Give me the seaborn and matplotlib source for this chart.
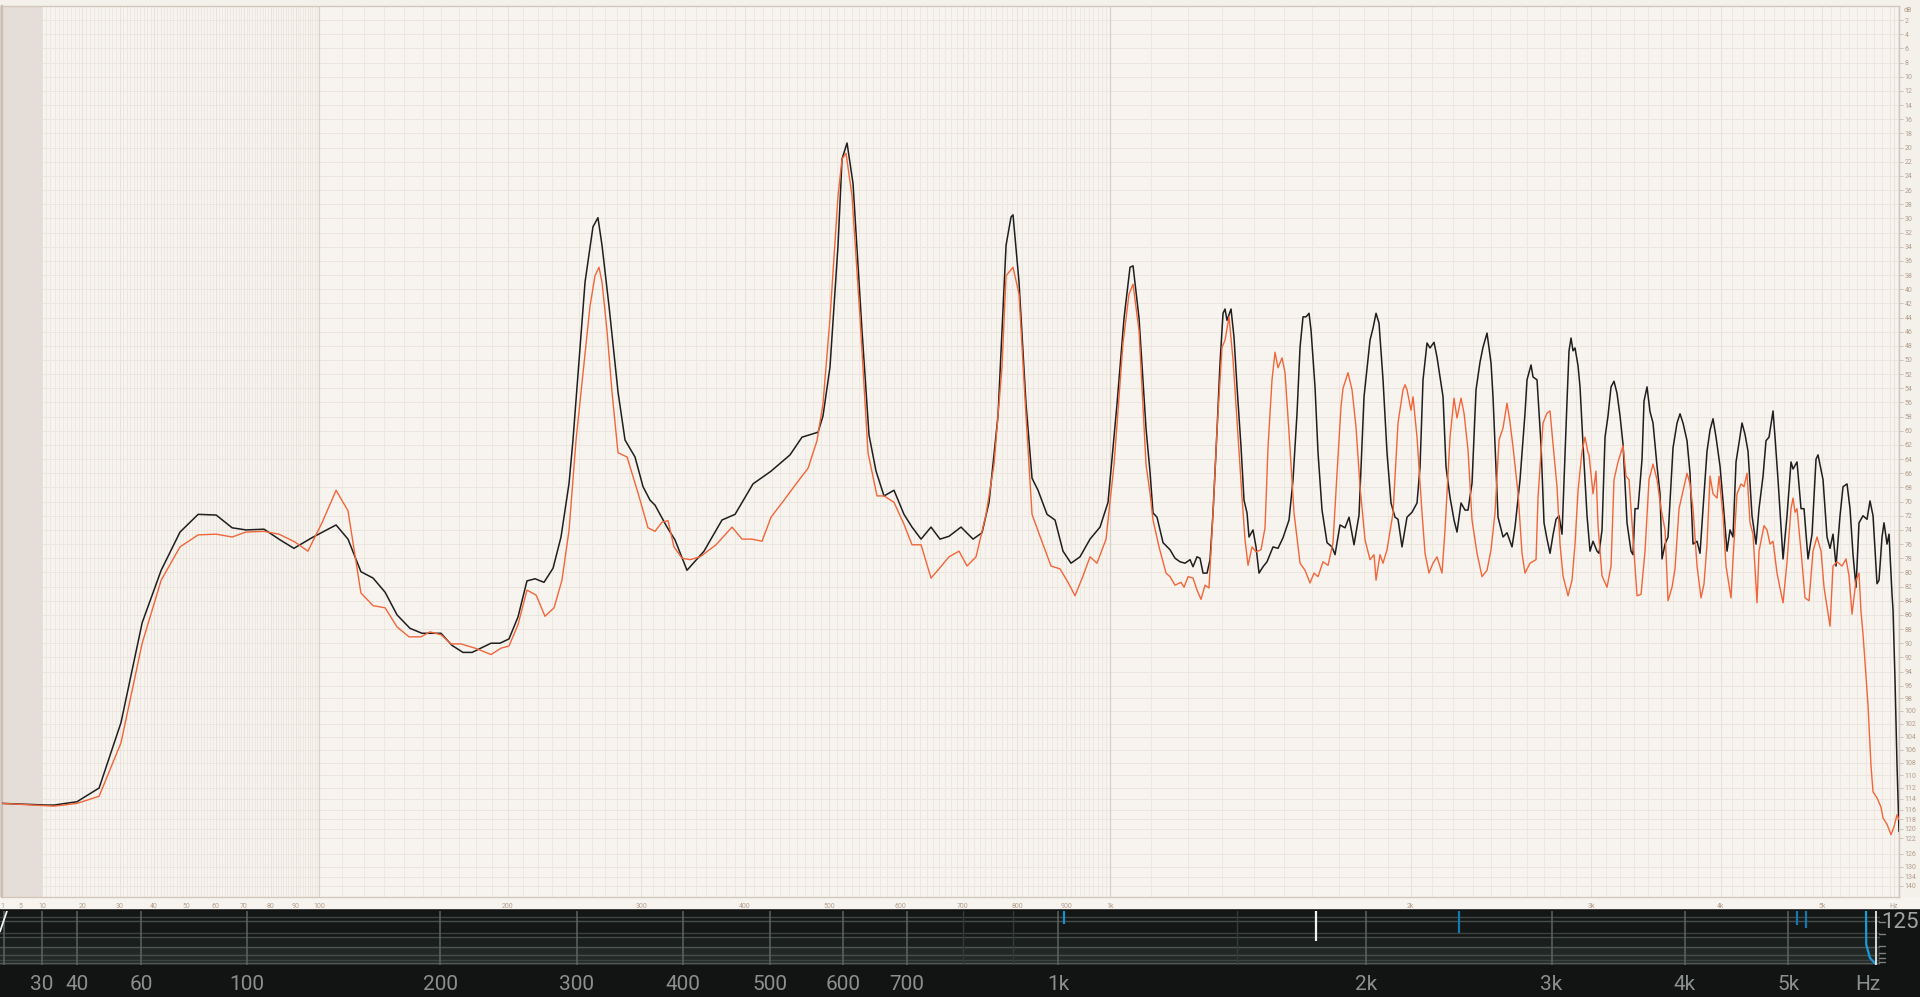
import numpy as np
import pandas as pd
import seaborn as sns
import matplotlib.pyplot as plt
from matplotlib.lines import Line2D
from matplotlib.patches import Rectangle
from matplotlib.ticker import FixedLocator

sns.set_theme(style='white')
plt.rcParams['font.family'] = ['Liberation Sans Narrow', 'Roboto', 'DejaVu Sans']

# ---- spectrum readings (Hz, dB below 0) ----
black_freq = [1.0, 11.0, 12.9, 18.6, 24.4, 30.4, 36.5, 42.2, 48.1, 54.0, 60.1, 65.7, 70.7, 77.5, 83.7, 89.3,
              96.8, 107.3, 112.7, 118.7, 124.5, 130.4, 136.4, 143.1, 149.5, 159.9, 166.1, 172.5, 177.9, 189.5,
              195.1, 200.9, 206.8, 212.8, 218.3, 224.5, 230.9, 236.6, 242.5, 245.4, 254.5, 260.6, 264.5, 267.7,
              273.3, 280.6, 286.4, 294.8, 301.7, 307.8, 312.2, 323.0, 330.3, 341.6, 358.1, 376.2, 389.8, 409.1,
              429.3, 451.4, 465.8, 485.7, 492.0, 501.0, 511.5, 516.8, 523.5, 531.6, 543.9, 553.7, 563.7, 575.2,
              589.9, 604.9, 617.2, 631.3, 647.2, 661.8, 676.7, 697.1, 718.0, 734.0, 746.7, 763.2, 778.3, 787.8,
              791.6, 803.2, 816.9, 828.9, 841.0, 859.4, 876.1, 893.0, 910.3, 930.1, 952.5, 975.5, 994.2, 1015.6,
              1032.6, 1047.3, 1054.8, 1069.8, 1087.6, 1097.8, 1105.6, 1116.0, 1131.9, 1150.6, 1164.1, 1177.8,
              1191.7, 1205.7, 1214.1, 1225.5, 1234.1, 1242.8, 1254.4, 1263.2, 1272.0, 1283.9, 1292.9, 1301.9,
              1308.0, 1314.0, 1326.3, 1335.5, 1344.8, 1357.4, 1366.8, 1376.3, 1382.7, 1395.5, 1405.2, 1415.0,
              1428.1, 1441.3, 1461.4, 1478.3, 1495.4, 1516.2, 1530.2, 1544.3, 1555.0, 1565.7, 1576.5, 1587.4,
              1594.7, 1609.3, 1620.4, 1635.3, 1654.1, 1673.1, 1684.6, 1703.9, 1723.5, 1739.3, 1759.2, 1779.3,
              1799.7, 1824.4, 1836.9, 1849.5, 1862.1, 1879.1, 1896.2, 1913.5, 1930.9, 1944.1, 1961.8, 1984.1,
              2006.7, 2029.5, 2043.4, 2057.3, 2075.9, 2090.0, 2109.0, 2123.3, 2152.3, 2166.9, 2186.5, 2206.3,
              2221.2, 2241.4, 2261.6, 2276.9, 2297.5, 2318.3, 2339.2, 2355.0, 2376.3, 2397.7, 2408.5, 2435.7,
              2463.2, 2485.3, 2513.4, 2530.3, 2558.8, 2587.6, 2599.2, 2622.6, 2634.4, 2658.0, 2681.9, 2699.9,
              2718.1, 2736.4, 2754.8, 2773.3, 2791.9, 2810.7, 2823.3, 2842.2, 2854.9, 2867.7, 2880.5, 2893.4,
              2912.8, 2925.8, 2945.4, 2971.8, 2991.7, 3011.8, 3038.7, 3052.3, 3072.7, 3093.3, 3114.0, 3134.9,
              3155.8, 3176.9, 3198.2, 3219.6, 3248.3, 3277.3, 3291.9, 3306.6, 3328.7, 3358.4, 3373.3, 3395.8,
              3418.5, 3441.3, 3472.0, 3495.1, 3510.7, 3534.1, 3557.7, 3597.3, 3629.3, 3653.5, 3677.8, 3710.5,
              3735.2, 3760.1, 3793.5, 3818.8, 3844.2, 3878.3, 3904.2, 3930.2, 3956.3, 3991.4, 4017.9, 4053.6,
              4080.5, 4107.6, 4134.9, 4162.4, 4190.0, 4217.8, 4245.9, 4283.5, 4321.4, 4350.1, 4388.7, 4417.8,
              4447.0, 4486.4, 4506.2, 4536.1, 4586.4, 4626.9, 4667.8, 4688.4, 4729.9, 4771.7, 4803.3, 4845.7,
              4888.6, 4931.8, 4953.5, 5008.2, 5052.4, 5085.9, 5119.5, 5153.3, 5198.8, 5233.2, 5279.4, 5314.3,
              5349.4, 5384.7, 5420.3, 5468.1, 5516.3, 5552.7, 5589.4, 5638.6, 5663.4, 5700.8, 5725.9, 5763.6,
              5789.0, 5827.2, 5840.0, 5865.6, 5891.4, 5917.0]
black_db = [114.8, 115.1, 115.1, 114.5, 112.0, 101.8, 87.1, 79.7, 74.3, 71.8, 71.9, 73.7, 74.0, 73.9, 75.4, 76.6,
            75.1, 73.3, 75.3, 79.9, 80.8, 82.8, 86.0, 87.9, 88.6, 88.6, 90.3, 91.3, 91.3, 90.0,
            90.0, 89.4, 86.3, 81.2, 80.9, 81.4, 79.4, 75.0, 67.4, 61.3, 39.0, 31.2, 29.9, 33.8,
            42.4, 54.5, 61.3, 63.7, 67.9, 69.8, 70.5, 73.6, 75.4, 79.7, 77.0, 72.6, 71.8, 67.5,
            65.7, 63.4, 60.9, 60.2, 57.9, 51.0, 33.8, 21.6, 19.35, 25.1, 45.8, 60.6, 65.7, 69.2,
            68.4, 71.8, 73.6, 75.3, 73.6, 75.3, 74.9, 73.6, 75.3, 74.4, 70.1, 57.9, 33.8, 29.8,
            29.5, 39.0, 56.2, 66.7, 68.4, 71.8, 72.6, 77.0, 78.7, 77.8, 75.3, 73.6, 70.1, 56.2,
            44.1, 36.9, 36.7, 44.1, 59.7, 65.8, 71.6, 72.2, 75.8, 76.8, 78.0, 78.5,
            78.7, 78.2, 79.2, 77.8, 78.0, 80.1, 80.1, 78.2, 71.6, 59.9, 50.4, 43.4,
            42.8, 44.4, 42.8, 46.8, 53.8, 62.3, 69.8, 71.6, 75.0, 74.0, 76.4, 80.1,
            79.2, 78.5, 76.4, 76.6, 75.1, 72.6, 66.9, 57.5, 48.2, 43.9, 43.9, 43.4,
            45.8, 53.8, 63.1, 71.2, 75.8, 76.4, 77.5, 73.3, 73.7, 72.2, 76.1, 71.9,
            55.2, 47.2, 45.5, 43.4, 44.8, 52.8, 63.1, 70.2, 72.2, 72.5, 76.4, 72.2,
            71.5, 70.2, 65.1, 52.8, 47.6, 48.3, 47.5, 49.6, 55.2, 65.1, 69.4, 72.6,
            74.3, 70.2, 71.2, 71.2, 67.4, 54.2, 50.3, 48.2, 46.2, 50.4, 55.2, 72.2,
            75.0, 74.4, 76.4, 73.6, 66.9, 57.5, 52.8, 50.7, 52.4, 52.8, 62.0, 73.0,
            75.3, 77.3, 74.7, 72.5, 72.0, 74.6, 66.9, 55.8, 48.7, 46.9, 48.7, 48.3,
            50.8, 53.8, 61.9, 72.0, 77.0, 75.6, 77.0, 77.3, 74.0, 60.9, 57.9, 53.8,
            53.0, 54.7, 57.9, 61.9, 73.0, 77.0, 77.5, 71.0, 71.0, 64.0, 55.8, 53.8,
            57.3, 58.9, 65.0, 68.9, 78.1, 76.0, 75.0, 62.4, 58.9, 57.6, 58.9, 61.4,
            66.0, 76.0, 75.6, 77.3, 71.0, 62.9, 59.9, 58.3, 60.9, 65.0, 69.9, 77.0,
            74.0, 75.0, 64.4, 61.7, 58.9, 60.5, 62.9, 72.0, 76.0, 71.0, 66.4, 61.4,
            60.9, 57.2, 60.9, 66.9, 78.1, 72.0, 64.4, 65.4, 64.4, 71.0, 71.0, 78.1,
            74.6, 64.0, 63.4, 66.9, 75.0, 76.6, 74.6, 79.1, 72.0, 67.9, 67.5, 71.0,
            77.5, 82.1, 73.0, 72.0, 72.5, 69.9, 72.0, 81.6, 81.1, 75.0, 73.0, 76.0,
            74.6, 83.1, 85.3, 95.2, 108.4, 120.5]

orange_freq = [1.0, 12.9, 18.6, 24.4, 30.4, 36.5, 42.2, 48.1, 54.0, 60.1, 65.7, 70.7, 77.5, 83.3, 89.7, 95.1,
               101.1, 107.3, 112.7, 118.7, 124.5, 130.4, 136.4, 142.6, 148.9, 153.8, 159.9, 165.6, 171.3, 179.7,
               189.5, 195.8, 200.9, 206.8, 212.8, 219.0, 225.2, 231.6, 237.3, 242.5, 247.7, 258.3, 262.2, 265.3,
               267.7, 271.7, 275.7, 280.6, 288.1, 297.4, 306.0, 312.2, 318.5, 323.9, 329.4, 336.9, 344.5, 354.2,
               370.1, 386.6, 397.2, 408.0, 419.1, 429.3, 444.3, 458.6, 473.2, 484.4, 492.0, 501.0, 511.5, 516.8,
               522.1, 530.2, 541.2, 552.3, 565.1, 575.2, 589.9, 604.9, 617.2, 631.3, 647.2, 660.2, 676.7, 693.7,
               707.5, 723.3, 741.2, 755.8, 770.7, 778.3, 791.6, 803.2, 816.9, 828.9, 847.1, 867.7, 886.6, 903.8,
               919.1, 936.8, 952.5, 968.5, 989.5, 1008.4, 1030.1, 1044.8, 1054.8, 1069.8, 1087.6, 1097.8, 1105.6,
               1121.3, 1139.9, 1150.6, 1164.1, 1180.6, 1188.9, 1200.1, 1214.1, 1225.5, 1237.0, 1248.6, 1260.2,
               1272.0, 1283.9, 1298.9, 1308.0, 1320.1, 1332.5, 1344.8, 1360.5, 1370.0, 1379.5, 1392.3, 1405.2,
               1421.5, 1434.7, 1444.7, 1458.0, 1468.1, 1478.3, 1492.0, 1502.3, 1516.2, 1533.7, 1555.0, 1572.9,
               1591.0, 1605.6, 1620.4, 1639.0, 1657.9, 1676.9, 1692.3, 1707.8, 1715.6, 1735.3, 1751.2, 1767.2,
               1783.4, 1803.8, 1824.4, 1841.1, 1849.5, 1866.3, 1879.1, 1896.2, 1922.2, 1944.1, 1966.3, 1975.2,
               1984.1, 2002.2, 2011.3, 2029.5, 2052.6, 2066.6, 2085.3, 2104.3, 2123.3, 2147.4, 2162.0, 2186.5,
               2206.3, 2221.2, 2241.4, 2256.5, 2276.9, 2297.5, 2323.5, 2349.8, 2376.3, 2397.7, 2419.3, 2441.1,
               2463.2, 2485.3, 2502.1, 2519.0, 2547.4, 2570.3, 2587.6, 2616.7, 2652.1, 2664.0, 2693.9, 2718.1,
               2736.4, 2754.8, 2779.5, 2798.2, 2817.0, 2848.6, 2874.1, 2893.4, 2912.8, 2938.9, 2958.6, 2978.4,
               2985.1, 3011.8, 3031.9, 3045.5, 3072.7, 3107.1, 3134.9, 3155.8, 3184.0, 3219.6, 3241.1, 3262.8,
               3291.9, 3321.3, 3350.9, 3380.8, 3410.9, 3441.3, 3472.0, 3502.9, 3534.1, 3557.7, 3589.3, 3613.2,
               3645.4, 3677.8, 3710.5, 3735.2, 3760.1, 3793.5, 3827.3, 3852.7, 3878.3, 3904.2, 3930.2, 3965.0,
               3982.6, 4017.9, 4044.6, 4089.5, 4107.6, 4144.0, 4180.8, 4208.6, 4236.5, 4264.6, 4293.0, 4331.0,
               4350.1, 4398.3, 4427.5, 4456.9, 4486.4, 4526.1, 4586.4, 4626.9, 4667.8, 4688.4, 4709.1, 4729.9,
               4771.7, 4813.9, 4856.4, 4899.3, 4942.6, 4986.3, 5019.3, 5085.9, 5119.5, 5164.7, 5221.7, 5267.8,
               5302.6, 5337.7, 5384.7, 5420.3, 5444.2, 5468.1, 5528.4, 5564.9, 5589.4, 5638.6, 5688.3, 5713.4,
               5763.6, 5814.4, 5852.8, 5891.4, 5917.0]
orange_db = [114.8, 115.3, 114.8, 113.5, 104.9, 90.0, 81.1, 76.4, 74.7, 74.6, 75.0, 74.3, 74.2, 74.6, 75.7, 77.0,
             73.0, 68.4, 71.3, 82.9, 84.7, 85.0, 87.7, 89.1, 89.1, 88.4, 88.8, 90.1, 90.1, 90.7,
             91.6, 90.7, 90.4, 87.4, 82.5, 83.2, 86.2, 85.0, 81.1, 74.0, 61.3, 42.4, 38.1, 36.9,
             39.0, 45.9, 54.5, 63.1, 63.7, 68.8, 73.7, 74.2, 72.9, 72.7, 76.4, 78.0, 78.2, 77.8,
             76.1, 73.6, 75.3, 75.3, 75.6, 72.2, 69.8, 67.5, 65.3, 61.4, 56.2, 44.1, 26.8, 21.6,
             20.8, 26.8, 44.1, 63.1, 69.2, 69.2, 70.1, 73.2, 76.1, 76.1, 80.8, 79.5, 77.8, 77.0,
             79.1, 77.8, 71.8, 64.8, 51.0, 38.1, 36.9, 40.7, 57.9, 71.8, 75.3, 79.1, 79.5, 81.4,
             83.3, 80.5, 77.8, 78.7, 75.3, 64.8, 47.6, 40.7, 39.3, 45.9, 64.8, 68.8, 72.6,
             76.4, 80.1, 80.6, 81.8, 81.4, 82.1, 80.6, 80.8, 82.5, 83.8, 81.8, 82.2,
             71.6, 59.9, 48.2, 47.2, 43.9, 50.0, 58.5, 69.4, 75.4, 79.0, 76.4, 77.1,
             76.8, 73.7, 62.3, 52.8, 48.9, 51.1, 49.7, 51.8, 60.3, 71.6, 78.7, 79.7,
             81.5, 80.1, 80.6, 78.5, 79.0, 75.8, 66.0, 56.6, 54.0, 51.8, 54.2, 59.5,
             67.9, 75.4, 78.2, 77.5, 81.1, 77.5, 78.7, 76.8, 71.6, 58.9, 54.2, 53.5,
             54.2, 57.1, 55.2, 60.9, 71.6, 77.3, 80.1, 78.7, 77.8, 80.1, 74.0, 60.9,
             55.4, 58.2, 55.4, 57.5, 62.7, 72.6, 77.3, 80.6, 79.7, 76.8, 71.6, 61.3,
             59.6, 56.1, 58.8, 62.3, 68.8, 77.3, 80.1, 78.7, 78.2, 69.4, 58.9, 57.5,
             57.2, 61.9, 67.9, 76.0, 80.5, 83.3, 81.1, 76.0, 68.5, 62.9, 60.9, 63.1,
             63.4, 68.9, 65.7, 73.4, 80.5, 82.1, 79.1, 66.9, 64.4, 62.1, 66.4, 66.9,
             75.0, 83.3, 83.1, 77.0, 66.9, 64.7, 66.9, 71.0, 74.0, 84.0, 82.1, 79.5,
             71.0, 68.5, 66.0, 67.5, 71.0, 79.1, 83.6, 81.6, 76.0, 66.4, 68.9, 69.5,
             66.4, 72.0, 79.1, 83.6, 78.1, 68.9, 67.5, 67.9, 66.0, 73.0, 74.6, 84.3,
             77.0, 73.4, 74.0, 76.0, 75.6, 80.1, 84.3, 78.5, 71.0, 69.5, 71.5, 71.0,
             77.0, 83.6, 84.0, 77.0, 75.0, 77.0, 82.1, 87.6, 79.1, 78.5, 79.1, 78.1,
             80.5, 85.9, 81.1, 80.1, 85.6, 88.7, 99.1, 108.5, 112.7, 113.8, 115.5, 117.7,
             119.0, 121.2, 119.5, 117.0, 118.0]

# ---- axis text ----
top_tick_freq = [1, 5, 10, 20, 30, 40, 50, 60, 70, 80, 90, 100, 200, 300, 400, 500, 600, 700, 800, 900,
                 1000, 2000, 3000, 4000, 5000, 5850]
top_tick_text = ['1', '5', '10', '20', '30', '40', '50', '60', '70', '80', '90', '100', '200', '300', '400',
                 '500', '600', '700', '800', '900', '1k', '2k', '3k', '4k', '5k', 'Hz']
db_ticks = list(range(2, 123, 2)) + [126, 130, 134, 140]
strip_tick_freq = [30, 40, 60, 100, 200, 300, 400, 500, 600, 700, 1000, 2000, 3000, 4000, 5000, 5924]
strip_tick_text = ['30', '40', '60', '100', '200', '300', '400', '500', '600', '700', '1k', '2k', '3k',
                   '4k', '5k', 'Hz']
strip_faint_freq = [800, 900, 1500]
strip_edge_freq = [20]
meter_freq = [1013, 1791, 2453, 5094, 5193]
meter_low = [0.76, 0.44, 0.59, 0.74, 0.69]
meter_color = ['#1a8fd0', '#f2f2f2', '#1577b0', '#1577b0', '#1577b0']

# level axis is compressed near the floor
db_knots = [-20, 0, 90, 96, 100, 104, 108, 112, 116, 120, 122, 126, 130, 134, 140, 146, 300]
px_knots = [-135.6, 6, 643.2, 685.7, 711, 737, 763, 788, 810, 829, 838.5, 854, 867, 877, 886, 897, 1100]


def fwd_x(f):
    return np.log(np.asarray(f, dtype=float) + 100.0)


def inv_x(u):
    return np.exp(np.asarray(u, dtype=float)) - 100.0


def fwd_y(d):
    return np.interp(np.asarray(d, dtype=float), db_knots, px_knots)


def inv_y(p):
    return np.interp(np.asarray(p, dtype=float), px_knots, db_knots)


W, H = 1920, 997
BEIGE = '#f7f4ef'
LABEL = '#b29e8d'

fig = plt.figure(figsize=(19.2, 9.97), dpi=100)
fig.patch.set_facecolor('#f4f0ea')
fig.add_artist(Rectangle((0, 0), 1, 1 - 908 / H, transform=fig.transFigure, color='#121313', zorder=0))

# ---- spectrum panel ----
ax = fig.add_axes([2 / W, 1 - 897 / H, 1897 / W, 891 / H])
ax.set_facecolor(BEIGE)
ax.set_xscale('function', functions=(fwd_x, inv_x))
ax.set_yscale('function', functions=(fwd_y, inv_y))

black = pd.DataFrame({'freq': black_freq, 'db': black_db})
orange = pd.DataFrame({'freq': orange_freq, 'db': orange_db})
sns.lineplot(data=black, x='freq', y='db', ax=ax, color='#1e1e1e', linewidth=1.1,
             estimator=None, sort=False, zorder=3)
sns.lineplot(data=orange, x='freq', y='db', ax=ax, color='#f0663a', linewidth=1.0,
             estimator=None, sort=False, zorder=4)

ax.set_xlim(0.91, 5917)
ax.set_ylim(146, 0)
ax.set_xlabel('')
ax.set_ylabel('')

minor_f = list(range(1, 10)) + list(range(10, 100)) + list(range(100, 1000, 10)) + list(range(1000, 5901, 100))
ax.xaxis.set_minor_locator(FixedLocator(minor_f))
ax.xaxis.set_major_locator(FixedLocator(top_tick_freq))
ax.set_xticklabels(top_tick_text)
ax.yaxis.set_major_locator(FixedLocator(db_ticks))
ax.set_yticklabels([str(v) for v in db_ticks])
ax.yaxis.tick_right()
ax.set_axisbelow(True)
ax.grid(which='minor', axis='x', color='#ebe5dd', linewidth=0.6)
ax.grid(which='major', axis='x', color='#e6dfd6', linewidth=0.6)
ax.grid(which='major', axis='y', color='#ebe5dd', linewidth=0.7)
ax.axvline(100, color='#d9d0c7', linewidth=0.9, zorder=1)
ax.axvline(1000, color='#d9d0c7', linewidth=0.9, zorder=1)
ax.axvspan(0.91, 10, color='#e5ddd8', zorder=1.5, linewidth=0)

ax.tick_params(axis='x', which='major', direction='out', length=3, width=0.6, color='#cbbdb1',
               labelsize=5, labelcolor=LABEL, pad=1)
ax.tick_params(axis='x', which='minor', length=0)
ax.tick_params(axis='y', which='major', direction='out', length=3, width=0.6, color='#cbbdb1',
               labelsize=5, labelcolor=LABEL, pad=1, right=True, left=False)
for side in ['left', 'right', 'bottom', 'top']:
    ax.spines[side].set_visible(True)
    ax.spines[side].set_color('#d3c7bd')
    ax.spines[side].set_linewidth(1.0)
ax.spines['left'].set_color('#cabdb3')
ax.spines['left'].set_linewidth(1.6)
fig.text(1904 / W, 1 - 11 / H, 'dB', fontsize=5, color=LABEL, ha='left', va='center')
fig.add_artist(Rectangle((0, 1 - 897 / H), 2 / W, 891 / H, transform=fig.transFigure,
                         color='#dcd2cb', zorder=0))
fig.add_artist(Rectangle((0, 1 - 908 / H), 1, 11 / H, transform=fig.transFigure,
                         color=BEIGE, zorder=0))

# ---- analyser strip ----
sx = fig.add_axes([0, 1 - 965 / H, 1880 / W, 54 / H])
sx.set_xscale('function', functions=(fwd_x, inv_x))
sx.set_xlim(19.0, 6082)
sx.set_ylim(0, 1)
sx.set_facecolor('#141716')
sx.axhspan(0.0, 0.33, color='#222826', linewidth=0)
sx.axhspan(0.33, 0.52, color='#1a1e1d', linewidth=0)
for yy, cc in [(0.04, '#515856'), (0.10, '#3d4442'), (0.19, '#465049'), (0.33, '#4e5553'),
               (0.52, '#444b49'), (0.59, '#3a413f'), (0.81, '#474e4c'), (0.89, '#3f4644')]:
    sx.axhline(yy, color=cc, linewidth=1.0)
for f in strip_tick_freq[:-1] + strip_edge_freq:
    sx.axvline(f, color='#5c6361', linewidth=1.1)
for f in strip_faint_freq:
    sx.axvline(f, color='#343a38', linewidth=1.0)
sx.vlines(meter_freq, meter_low, 1.0, colors=meter_color, linewidth=1.6)
sx.plot([5903, 5906, 5953, 6017], [1.0, 0.38, 0.13, 0.03], color='#1a9ad8', linewidth=1.6)
sx.axvline(6030, color='#e8e8e8', linewidth=1.3)
sx.plot([0.0, 0.0037], [0.62, 1.0], transform=sx.transAxes, color='#f0f0f0', linewidth=1.3)
sx.set_xticks(strip_tick_freq)
sx.set_xticklabels(strip_tick_text)
sx.xaxis.set_minor_locator(FixedLocator([]))
sx.set_yticks([])
sx.tick_params(axis='x', direction='out', length=4, width=1.0, color='#6a706e',
               labelsize=15, labelcolor='#8b8f8d', pad=3)
for side in ['left', 'right', 'bottom', 'top']:
    sx.spines[side].set_visible(False)

fig.text(1900 / W, 1 - 922 / H, '125', fontsize=16, color='#a0a3a2', ha='center', va='center')
for yy in [922, 934, 946, 953, 958, 962]:
    fig.add_artist(Line2D([1879 / W, 1885 / W], [1 - yy / H, 1 - yy / H], transform=fig.transFigure,
                          color='#7d8280', linewidth=1.0))

fig.savefig('out.png', dpi=100, facecolor=fig.get_facecolor())
